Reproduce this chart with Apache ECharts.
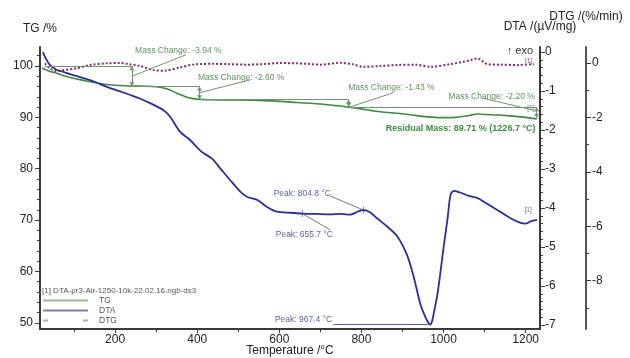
<!DOCTYPE html>
<html><head><meta charset="utf-8">
<script src="https://cdn.jsdelivr.net/npm/echarts@6/dist/echarts.min.js"></script>
<style>html,body{margin:0;padding:0;background:#fff}#c{width:630px;height:358px}</style>
</head><body><div id="c"></div>
<script>
// ---- data ----
const tgT = [22, 30, 40, 58, 75, 98, 120, 139, 160, 180, 210, 237, 277, 300, 318, 335, 350, 363, 375, 390, 407, 430, 480, 550, 643, 700, 749, 769, 800, 846, 895, 928, 960, 993, 1030, 1060, 1070, 1082, 1100, 1131, 1160, 1195, 1227];
const tgV = [99.6, 99.3, 99.0, 98.6, 98.1, 97.6, 97.25, 96.95, 96.65, 96.4, 96.2, 96.1, 96.05, 95.95, 95.7, 95.3, 94.7, 94.3, 93.9, 93.65, 93.5, 93.42, 93.4, 93.3, 92.9, 92.6, 92.2, 92.0, 91.65, 91.1, 90.75, 90.4, 90.1, 89.95, 90.0, 90.3, 90.5, 90.65, 90.55, 90.45, 90.3, 90.05, 89.71];

const dtaT = [24, 31, 41, 58, 66, 98, 139, 163, 180, 210, 237, 260, 285, 318, 334, 358, 383, 411, 436, 456, 480, 505, 521, 546, 570, 594, 627, 656, 690, 724, 750, 773, 789, 805, 820, 838, 860, 887, 911, 928, 944, 956, 964, 967, 972, 978, 985, 993, 1001, 1010, 1017, 1025, 1040, 1060, 1082, 1100, 1123, 1145, 1163, 1188, 1200, 1212, 1228];
const dtaV = [0.0, -0.16, -0.33, -0.46, -0.48, -0.59, -0.72, -0.82, -0.89, -1.00, -1.10, -1.19, -1.31, -1.49, -1.66, -2.04, -2.26, -2.56, -2.73, -2.98, -3.28, -3.58, -3.71, -3.79, -3.97, -4.09, -4.12, -4.14, -4.15, -4.16, -4.15, -4.17, -4.10, -4.05, -4.10, -4.26, -4.45, -4.72, -5.20, -5.79, -6.48, -6.80, -6.95, -6.99, -6.90, -6.60, -6.22, -5.60, -4.94, -4.25, -3.66, -3.56, -3.60, -3.68, -3.74, -3.85, -4.00, -4.14, -4.26, -4.38, -4.40, -4.34, -4.30];

const dtgT = [29, 41, 56, 74, 107, 139, 180, 212, 237, 261, 293, 318, 358, 399, 440, 480, 520, 561, 602, 643, 670, 700, 749, 778, 805, 846, 887, 932, 968, 1017, 1046, 1066, 1082, 1107, 1139, 1180, 1220];
const dtgV = [-0.01, -0.19, -0.29, -0.26, -0.19, -0.07, -0.01, 0.0, -0.05, -0.11, -0.26, -0.28, -0.16, -0.04, -0.03, -0.04, -0.06, -0.04, 0.0, -0.01, -0.03, -0.06, 0.01, -0.04, -0.14, -0.11, -0.07, -0.06, -0.14, -0.04, 0.04, 0.11, 0.17, -0.04, -0.06, -0.07, -0.04];

// mass-change steps
const stepT = [29, 240.7, 405.6, 769, 1226.7];
const massChange = [-3.94, -2.60, -1.43, -2.20];
const residual = {mass: 89.71, temp: 1226.7};
const peaks = [655.7, 804.8, 967.4];
const peakDTA = [-4.14, -4.05, -6.99];

// tick labels
const xLabels = [200, 400, 600, 800, 1000, 1200];
const xMinorTicks = [100, 300, 500, 700, 900, 1100];
const tgLabels = [50, 60, 70, 80, 90, 100];
const dtaLabels = [0, -1, -2, -3, -4, -5, -6, -7];
const dtgLabels = [0, -2, -4, -6, -8];

// ---- build ----
const FONT = 'Liberation Sans, Arial, sans-serif';
const zip = (a, b) => a.map((v, i) => [v, b[i]]);
const levels = [100];
massChange.forEach(c => levels.push(+(levels[levels.length - 1] + c).toFixed(2)));
const range = (a, b, s) => { const r = []; for (let v = a; v <= b + 1e-9; v += s) r.push(+v.toFixed(2)); return r; };
const notIn = (arr, major) => arr.filter(v => !major.some(m => Math.abs(m - v) < 1e-6));

const ANN = '#6f946f', ANNTXT = '#5f8f5f', PK = '#5a6498';
function txt(coord, text, color, size, align, weight) {
  return { coord, symbol: 'rect', symbolSize: 1, itemStyle: { color: 'rgba(0,0,0,0)' },
    label: { show: true, position: 'inside', formatter: text, color, fontSize: size, align: align || 'center',
      fontWeight: weight || 'normal', fontFamily: FONT } };
}
const seg = (a, b, color, arrows) => [
  { coord: a, symbol: arrows ? 'arrow' : 'none', symbolSize: [4, 5], lineStyle: { color, width: 1, type: 'solid' } },
  { coord: b, symbol: arrows ? 'arrow' : 'none', symbolSize: [4, 5] }];

const tgLines = [];
for (let i = 0; i < massChange.length; i++) {
  tgLines.push(seg([stepT[i], levels[i]], [stepT[i + 1], levels[i]], ANN, false));
  tgLines.push(seg([stepT[i + 1], levels[i]], [stepT[i + 1], levels[i + 1]], ANN, true));
}
tgLines.push(seg([373, 102.2], [240.7, 98.0], ANN, false));
tgLines.push(seg([529, 97.3], [405.6, 94.8], ANN, false));
tgLines.push(seg([878, 94.8], [771, 92.0], ANN, false));
tgLines.push(seg([1098, 93.7], [1219, 91.4], ANN, false));

const mcText = v => 'Mass Change: ' + v.toFixed(2) + ' %';
const tgTexts = [
  txt([354, 102.9], mcText(massChange[0]), ANNTXT, 8.5),
  txt([507, 97.8], mcText(massChange[1]), ANNTXT, 8.5),
  txt([873, 95.8], mcText(massChange[2]), ANNTXT, 8.5),
  txt([1117, 94.1], mcText(massChange[3]), ANNTXT, 8.5),
  txt([1224, 87.8], 'Residual Mass: ' + residual.mass.toFixed(2) + ' % (' + residual.temp.toFixed(1) + ' °C)', '#3f8a3f', 9, 'right', 'bold'),
  txt([1218, 103.0], '↑ exo', '#333', 11, 'right'),
  txt([1213, 91.7], '[1]', '#5f8f5f', 6.5)
];

const pkText = v => 'Peak: ' + v.toFixed(1) + ' °C';
const dtaLines = [
  seg([724, -3.69], [peaks[1], peakDTA[1]], '#777', false),
  seg([peaks[0], peakDTA[0]], [724, -4.56], '#777', false),
  seg([732, -6.98], [peaks[2], -6.98], PK, false)
];
const plus = 'path://M0,4.6H10V5.4H0Z M4.6,0H5.4V10H4.6Z';
const dtaTexts = [
  txt([656, -3.62], pkText(peaks[1]), PK, 8.5),
  txt([661, -4.67], pkText(peaks[0]), PK, 8.5),
  txt([659, -6.85], pkText(peaks[2]), PK, 8.5),
  txt([1206, -4.05], '[1]', PK, 6.5),
  { coord: [peaks[0], peakDTA[0]], symbol: plus, symbolSize: 7, itemStyle: { color: '#2a2e96' }, label: { show: false } },
  { coord: [peaks[1], peakDTA[1]], symbol: plus, symbolSize: 7, itemStyle: { color: '#2a2e96' }, label: { show: false } }
];
const dtgTexts = [ txt([1207, 0.05], '[1]', '#9a4a9a', 6.5) ];

const axisLineStyle = { show: true, onZero: false, lineStyle: { color: '#3a3a3a', width: 2 } };
const lbl = (vals, margin) => ({ customValues: vals, color: '#222', fontSize: 12, fontFamily: FONT, margin, formatter: v => String(v) });
const tick = (vals, len) => ({ show: true, customValues: vals, length: len, lineStyle: { color: '#3a3a3a', width: 1 } });

const TG_MIN = 48.8, TG_MAX = 103.7, DTA_MIN = -7.1, DTA_MAX = 0.13, DTG_MIN = -9.78, DTG_MAX = 0.59;
const nameStyle = () => ({ color: '#222', fontSize: 12, fontFamily: FONT });

const option = {
  animation: false,
  backgroundColor: '#fff',
  title: { text: '[1] DTA-pr3-Air-1250-10k-22.02.16.ngb-ds3', left: 42, top: 287, padding: 0,
    textStyle: { fontSize: 8, color: '#555', fontWeight: 'normal', fontFamily: FONT } },
  legend: { orient: 'vertical', left: 43, top: 295.5, padding: 0, itemWidth: 45, itemHeight: 2, itemGap: 0,
    data: [
      { name: 'TG', icon: 'rect', itemStyle: { color: '#9cb89c' } },
      { name: 'DTA', icon: 'rect', itemStyle: { color: '#7c80b4' } },
      { name: 'DTG', icon: 'path://M0,0H5V2H0Z M40,0H45V2H40Z', itemStyle: { color: '#b9a9b9' } }
    ],
    textStyle: { fontSize: 8.5, lineHeight: 10, color: '#555', fontFamily: FONT, padding: [0, 0, 0, 6] } },
  grid: { left: 40, right: 90, top: 47, bottom: 29, containLabel: false, outerBoundsMode: 'none' },
  xAxis: [
    { type: 'value', min: 17, max: 1235, position: 'bottom',
      name: 'Temperature /°C', nameLocation: 'middle', nameGap: 22, nameMoveOverlap: false,
      nameTextStyle: { color: '#222', fontSize: 12, fontFamily: FONT, verticalAlign: 'middle' },
      axisLine: axisLineStyle, axisTick: tick(xLabels, 4), axisLabel: lbl(xLabels, 5), splitLine: { show: false } },
    { type: 'value', min: 17, max: 1235, position: 'bottom', axisLine: { show: false, onZero: false },
      axisTick: tick(xMinorTicks, 3), axisLabel: { show: false }, splitLine: { show: false } }
  ],
  yAxis: [
    { type: 'value', min: TG_MIN, max: TG_MAX, position: 'left', name: 'TG /%', nameGap: 12,
      nameTextStyle: nameStyle(),
      axisLine: axisLineStyle, axisTick: tick(tgLabels, 5), axisLabel: lbl(tgLabels, 7), splitLine: { show: false } },
    { type: 'value', min: DTA_MIN, max: DTA_MAX, position: 'right', offset: 0, name: 'DTA /(µV/mg)', nameGap: 14,
      nameTextStyle: nameStyle(),
      axisLine: axisLineStyle, axisTick: tick(dtaLabels, 5), axisLabel: lbl(dtaLabels, 5), splitLine: { show: false } },
    { type: 'value', min: DTG_MIN, max: DTG_MAX, position: 'right', offset: 46, name: 'DTG /(%/min)', nameGap: 24,
      nameTextStyle: nameStyle(),
      axisLine: { show: true, onZero: false, lineStyle: { color: '#555', width: 2 } }, axisTick: tick(dtgLabels, 5), axisLabel: lbl(dtgLabels, 6), splitLine: { show: false } },
    { type: 'value', min: TG_MIN, max: TG_MAX, position: 'left', offset: 0, axisLine: { show: false, onZero: false },
      axisTick: tick(notIn(range(50, 102, 2), tgLabels), 3), axisLabel: { show: false }, splitLine: { show: false } },
    { type: 'value', min: DTA_MIN, max: DTA_MAX, position: 'right', offset: 0, axisLine: { show: false, onZero: false },
      axisTick: tick(notIn(range(-7, 0, 0.2), dtaLabels), 3), axisLabel: { show: false }, splitLine: { show: false } },
    { type: 'value', min: DTG_MIN, max: DTG_MAX, position: 'right', offset: 46, axisLine: { show: false, onZero: false },
      axisTick: tick(notIn(range(-9, 0, 1), dtgLabels), 3), axisLabel: { show: false }, splitLine: { show: false } }
  ],
  series: [
    { name: 'TG', type: 'line', yAxisIndex: 0, data: zip(tgT, tgV), showSymbol: false, symbol: 'none', smooth: 0.3,
      lineStyle: { color: '#3f8a3f', width: 1.6 }, itemStyle: { color: '#3f8a3f' },
      markLine: { silent: true, symbol: ['none', 'none'], label: { show: false }, emphasis: { disabled: true }, data: tgLines },
      markPoint: { silent: true, data: tgTexts } },
    { name: 'DTA', type: 'line', yAxisIndex: 1, data: zip(dtaT, dtaV), showSymbol: false, symbol: 'none', smooth: 0.3,
      lineStyle: { color: '#2a2e96', width: 1.8 }, itemStyle: { color: '#2a2e96' },
      markLine: { silent: true, symbol: ['none', 'none'], label: { show: false }, emphasis: { disabled: true }, data: dtaLines },
      markPoint: { silent: true, data: dtaTexts } },
    { name: 'DTG', type: 'line', yAxisIndex: 2, data: zip(dtgT, dtgV), showSymbol: false, symbol: 'none', smooth: 0.3,
      lineStyle: { color: '#7d2a6e', width: 2, type: 'dotted' }, itemStyle: { color: '#b49ab0' },
      markPoint: { silent: true, data: dtgTexts } }
  ]
};
const chart = echarts.init(document.getElementById('c'), null, { renderer: 'canvas' });
chart.setOption(option);
</script>
</body></html>
